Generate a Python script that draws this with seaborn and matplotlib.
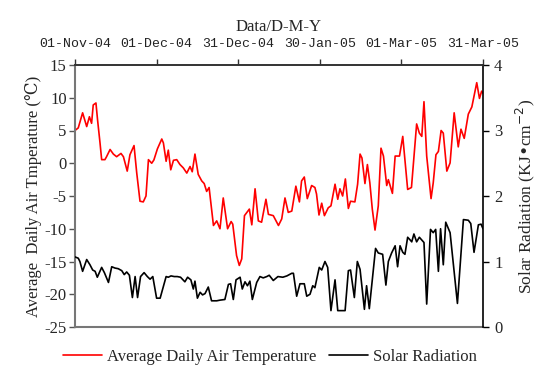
import matplotlib
matplotlib.use("Agg")
import matplotlib.pyplot as plt
import seaborn as sns
import pandas as pd

# ---- data (day offset from 01-Nov-2004, value) ----
temp_day = [0, 1.2, 2.8, 4.3, 5.3, 6.1, 6.7, 7.7, 8.3, 9.2, 9.8, 11, 11.6, 12.9, 14.1,
            15.3, 16.9, 17.8, 19.2, 20.2, 21.7, 22.7, 23.9, 25.1, 26.1, 27, 28.2, 29,
            30.3, 31.9, 32.5, 33.5, 34.3, 35.2, 36.2, 37.4, 38.6, 39.8, 41.1, 42.3,
            43.1, 44.1, 45.3, 46.6, 47.5, 48.4, 49.3, 50.9, 52.1, 53.3, 54.5, 56.1,
            57.4, 58, 59.4, 60.4, 61.3, 62.3, 64.1, 65, 66.2, 67.4, 68.6, 70.2, 71.1,
            72.9, 74.8, 76, 77.2, 78.4, 79.7, 81.2, 82.5, 83.3, 84.3, 85.4, 87, 88.2,
            88.8, 89.7, 90.7, 91.7, 93.1, 94.1, 95.6, 96.6, 97.4, 98.4, 99.4, 100.5,
            101.3, 102.9, 103.9, 104.8, 105.5, 106.6, 107.5, 108.4, 109.3, 110.3,
            111.5, 112.5, 113.4, 114.6, 115.2, 116.7, 117.7, 119.3, 120.5, 122.3,
            123.7, 125.6, 126.6, 127.5, 128.3, 129.3, 130.9, 131.7, 132.7, 133.6,
            134.6, 135.4, 136.7, 137.9, 139.4, 140.9, 141.9, 143.1, 144.6, 145.9,
            147.7, 148.7, 149.5, 150]
temp_val = [5, 5.4, 7.7, 5.6, 7.1, 6.1, 8.9, 9.2, 6.6, 3.1, 0.55, 0.55, 1, 2.1, 1.4,
            1, 1.5, 1, -1.2, 1.3, 2.7, -1.5, -5.8, -5.9, -5, 0.55, 0, 0.5,
            2.2, 3.7, 3.1, 0.3, 2, -1, 0.45, 0.55, -0.2, -0.7, -1.5, -0.5,
            -1.3, 1.4, -1.7, -2.7, -3.1, -4.3, -3.7, -9.5, -8.8, -10, -5.3, -10,
            -8.9, -9.3, -14.1, -15.6, -14.6, -8, -7, -9.4, -3.9, -8.8, -9, -5.5, -7.8,
            -8, -9.5, -8.5, -5.3, -7.5, -7.3, -3.5, -5.9, -2.7, -2.1, -5.4, -3.4, -3.7,
            -4.7, -7.9, -6.1, -8, -6.8, -6.5, -3.2, -5.5, -3.9, -5, -2.4, -6.9,
            -5.8, -5.9, -3.2, 1.4, 0.8, -3.1, -0.2, -3, -7, -10.2,
            -6.5, 2.3, 1.1, -3.4, -2.5, -4.6, 1.1, 1.1, 4.1, -4,
            -3.7, 6, 4.6, 4.1, 9.4, 1.1, -5.4, -3, 1.3, 1.8,
            5, 4.6, -1.2, 0.05, 7.7, 2.5, 5.2, 3.8, 7.5, 8.6,
            12.3, 9.9, 11, 10.7]

solar_day = [0, 1.2, 1.8, 2.8, 4.3, 5.5, 6.5, 7.4, 8.2, 9.8, 10.8, 12.3, 13.5, 14.7,
             15.9, 17.2, 18.1, 19, 20, 21.1, 22.1, 23, 24.1, 25.4, 26.6, 27.6, 28.6,
             30, 31.3, 33.5, 34.3, 35.3, 36.5, 37.6, 38.8, 40.4, 41.4, 42.6, 43.5,
             44.1, 45, 46, 46.9, 47.8, 49, 50.2, 52.1, 53.3, 55.1, 56.4, 57.2, 58.2,
             59.2, 60.7, 61.5, 62.5, 63.4, 64.3, 65.2, 66.8, 68, 69.2, 70.5, 71.4,
             72.9, 74.6, 76.4, 77.9, 79.7, 80.3, 81.5, 82.7, 84.3, 85.2, 86.4, 87.4,
             88.2, 89.8, 90.7, 91.9, 92.9, 94.1, 95.6, 96.6, 99.3, 100.5, 101.3,
             102.7, 103.8, 104.8, 106.4, 107.2, 108.2, 110.5, 111.5, 113.1, 114.3,
             115.2, 116.4, 117.7, 118.6, 119.5, 120.5, 121.3, 122.3, 123.2, 123.8,
             124.6, 125.6, 126.6, 128.3, 129.3, 130.7, 131.7, 132.6, 133.6, 134.4,
             135.4, 136.3, 137.9, 140.6, 142.8, 144.6, 145.5, 146.7, 148.3, 149.3, 150]
solar_val = [1.07, 1.05, 1.0, 0.85, 1.03, 0.95, 0.87, 0.85, 0.76, 0.91, 0.83, 0.68, 0.92, 0.9,
             0.89, 0.86, 0.8, 0.84, 0.79, 0.45, 0.77, 0.45, 0.77, 0.83, 0.77, 0.73, 0.77,
             0.44, 0.44, 0.77, 0.76, 0.78, 0.77, 0.77, 0.76, 0.69, 0.76, 0.72, 0.58,
             0.7, 0.44, 0.53, 0.49, 0.51, 0.61, 0.4, 0.4, 0.41, 0.42, 0.65, 0.66, 0.42,
             0.72, 0.76, 0.58, 0.69, 0.63, 0.7, 0.42, 0.68, 0.77, 0.75, 0.77, 0.79,
             0.71, 0.77, 0.76, 0.78, 0.82, 0.82, 0.47, 0.66, 0.66, 0.47, 0.5, 0.63,
             0.6, 0.91, 0.87, 1.0, 0.91, 0.25, 0.72, 0.25, 0.25, 0.86, 0.87,
             0.45, 1.0, 0.88, 0.27, 0.63, 0.28, 1.2, 1.13, 1.11, 0.64,
             1.0, 1.13, 1.24, 0.92, 1.24, 1.14, 1.11, 1.37, 1.33, 1.3,
             1.42, 1.3, 1.37, 1.29, 0.35, 1.49, 1.44, 1.49, 0.85, 1.5,
             0.95, 1.6, 1.44, 0.36, 1.64, 1.63, 1.58, 1.14, 1.56, 1.57, 1.5]

tick_days = [0, 30, 60, 90, 120, 150]
tick_labels = ["01-Nov-04", "01-Dec-04", "31-Dec-04", "30-Jan-05", "01-Mar-05", "31-Mar-05"]
temp_ticks = [-25, -20, -15, -10, -5, 0, 5, 10, 15]
solar_ticks = [0, 1, 2, 3, 4]

sns.set_theme(style="white")
plt.rcParams["font.family"] = ["Liberation Serif", "DejaVu Serif"]

temp_df = pd.DataFrame({"day": temp_day, "value": temp_val})
solar_df = pd.DataFrame({"day": solar_day, "value": solar_val})

fig = plt.figure(figsize=(5.42, 3.65), dpi=100)
ax = fig.add_axes([75 / 542, 38 / 365, 408 / 542, 262 / 365])
ax2 = ax.twinx()

sns.lineplot(data=temp_df, x="day", y="value", ax=ax, color="#ff0000", lw=1.2,
             estimator=None, sort=False, label="Average Daily Air Temperature")
sns.lineplot(data=solar_df, x="day", y="value", ax=ax2, color="#000000", lw=1.2,
             estimator=None, sort=False, label="Solar Radiation")

for a in (ax, ax2):
    lg = a.get_legend()
    if lg is not None:
        lg.remove()

ax.set_xlim(0, 150)
ax.set_ylim(-25, 15)
ax2.set_ylim(0, 4)
ax.set_yticks(temp_ticks)
ax.set_yticklabels([str(t) for t in temp_ticks], fontsize=12)
ax2.set_yticks(solar_ticks)
ax2.set_yticklabels([str(t) for t in solar_ticks], fontsize=12)

ax.xaxis.tick_top()
ax.xaxis.set_label_position("top")
ax.set_xticks(tick_days)
ax.set_xticklabels(tick_labels, fontsize=9.5, color="#222222",
                   family=["Liberation Mono", "DejaVu Sans Mono"])
ax.set_xlabel("Data/D-M-Y", fontsize=12, labelpad=5)
ax2.tick_params(axis="x", which="both", top=False, bottom=False, labeltop=False, labelbottom=False)
ax2.set_xlabel("")

ax.set_ylabel("Average  Daily Air Tmperature (℃)", fontsize=12, labelpad=2)
ax2.set_ylabel("Solar Radiation (KJ\u2022cm$^{-2}$)", fontsize=12.5, labelpad=8)

ax.tick_params(axis="y", direction="out", length=4, width=1, color="#555555", pad=2, left=True)
ax.tick_params(axis="x", direction="out", length=4, width=1, color="#333333", pad=7, top=True)
ax2.tick_params(axis="y", direction="out", length=4, width=1, color="#000000", pad=4, right=True)

for s in ("left", "bottom"):
    ax.spines[s].set_color("#777777")
    ax.spines[s].set_linewidth(1.5)
    ax2.spines[s].set_visible(False)
ax2.spines["right"].set_color("#000000")
ax2.spines["right"].set_linewidth(1.2)
ax2.spines["top"].set_color("#333333")
ax2.spines["top"].set_linewidth(1.2)
ax.spines["right"].set_visible(False)
ax.spines["top"].set_color("#333333")
ax.spines["top"].set_linewidth(1.2)

h1, l1 = ax.get_legend_handles_labels()
h2, l2 = ax2.get_legend_handles_labels()
fig.legend(h1 + h2, l1 + l2, loc="center", bbox_to_anchor=(270 / 542, 1 - 357 / 365),
           ncol=2, frameon=False, fontsize=12, handlelength=2.3, handletextpad=0.3,
           columnspacing=0.8, borderaxespad=0)

fig.savefig("out.png", dpi=100)
